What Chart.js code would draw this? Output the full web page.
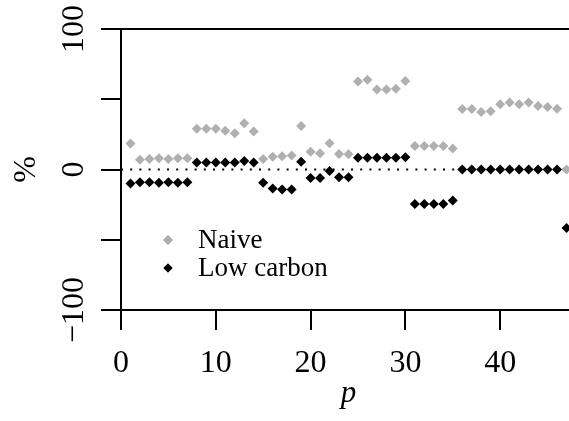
<!DOCTYPE html>
<html>
<head>
<meta charset="utf-8">
<script src="https://cdn.jsdelivr.net/npm/chart.js@4/dist/chart.umd.min.js"></script>
<style>
  html, body { margin: 0; padding: 0; background: #fff; overflow: hidden; }
  canvas { display: block; }
</style>
</head>
<body>
<canvas id="chartP" width="600" height="421"></canvas>
<script>
// data
var pValues = [1, 2, 3, 4, 5, 6, 7, 8, 9, 10, 11, 12, 13, 14, 15, 16, 17, 18, 19, 20, 21, 22, 23, 24,
    25, 26, 27, 28, 29, 30, 31, 32, 33, 34, 35, 36, 37, 38, 39, 40, 41, 42, 43, 44, 45, 46, 47];
var naiveValues = [18.5, 7, 7.5, 8, 7.5, 8, 8, 29, 29, 29, 27.6, 25.8, 33, 27, 7.5, 9, 9.5, 10, 31,
    12.7, 11.5, 18.6, 11, 10.8, 62.6, 63.8, 57, 57, 57.5, 63, 16.7, 16.7, 16.7, 16.7, 15,
    43, 43, 41, 41.5, 46.4, 47.6, 46.4, 47.6, 45.2, 44.5, 43.3, 0];
var lowCarbonValues = [-10, -9, -9, -9.5, -9, -9.5, -9, 5, 5, 5, 5, 5, 6, 5, -9.5, -13.5, -14.3, -14.3, 5.5,
    -6, -6, -1, -5.5, -5.5, 8.3, 8.3, 8.3, 8.3, 8.3, 8.8, -24.5, -24.5, -24.5, -24.5, -22,
    0, 0, 0, 0, 0, 0, 0, 0, 0, 0, 0, -41.7];
var seriesNames = ["Naive", "Low carbon"];
var yTickValues = [-100, 0, 100];
var yTickLabels = ["\u2212100", "0", "100"];

var serif = "'Liberation Serif', 'Times New Roman', serif";

function toPoints(ys) {
    return pValues.map(function (p, i) { return { x: p, y: ys[i] }; });
}

// rotated y labels, box top line and the legend
var extras = {
    id: 'extras',
    afterDraw: function (chart) {
        var ctx = chart.ctx;
        var area = chart.chartArea;
        var yScale = chart.scales.y;

        ctx.save();
        ctx.strokeStyle = 'black';
        ctx.lineWidth = 2;
        ctx.beginPath();
        ctx.moveTo(area.left, area.top);
        ctx.lineTo(area.right, area.top);
        ctx.stroke();

        ctx.fillStyle = 'black';
        ctx.font = '32px ' + serif;
        ctx.textAlign = 'center';
        ctx.textBaseline = 'alphabetic';
        yTickValues.forEach(function (v, i) {
            ctx.save();
            ctx.translate(yScale.right - 38, yScale.getPixelForValue(v));
            ctx.rotate(-Math.PI / 2);
            ctx.fillText(yTickLabels[i], 0, 0);
            ctx.restore();
        });

        ctx.font = '27px ' + serif;
        ctx.textAlign = 'left';
        [0, 1].forEach(function (i) {
            var ds = chart.data.datasets[i];
            var base = area.top + 219 + i * 28;
            Chart.helpers.drawPoint(ctx, {
                pointStyle: 'rectRot', radius: 4.5, borderWidth: 0
            }, area.left + 47, base - 8);
            ctx.fillStyle = ds.backgroundColor;
            ctx.fill();
            ctx.fillStyle = 'black';
            ctx.fillText(ds.label, area.left + 77, base);
        });
        ctx.restore();
    }
};

var ourChart = new Chart(document.getElementById('chartP'), {
    type: 'scatter',
    data: {
        datasets: [
            {
                label: seriesNames[0],
                data: toPoints(naiveValues),
                pointStyle: 'rectRot',
                pointRadius: 5,
                pointBorderWidth: 0,
                backgroundColor: '#b0b0b0',
                borderColor: '#b0b0b0',
                order: 2
            },
            {
                label: seriesNames[1],
                data: toPoints(lowCarbonValues),
                pointStyle: 'rectRot',
                pointRadius: 5,
                pointBorderWidth: 0,
                backgroundColor: '#000000',
                borderColor: '#000000',
                order: 1
            },
            {
                type: 'line',
                label: 'zero',
                data: [{ x: 0, y: 0 }, { x: 48, y: 0 }],
                borderColor: '#000000',
                borderWidth: 2,
                borderDash: [2, 7.2],
                pointRadius: 0,
                fill: false,
                order: 3
            }
        ]
    },
    options: {
        responsive: false,
        animation: false,
        devicePixelRatio: 1,
        layout: {
            padding: { left: 0, top: 29, right: 24, bottom: 0 }
        },
        plugins: {
            legend: { display: false },
            tooltip: { enabled: false }
        },
        scales: {
            x: {
                type: 'linear',
                min: 0,
                max: 48,
                border: { display: true, color: 'black', width: 2 },
                grid: { drawOnChartArea: false, color: 'black', lineWidth: 2, tickLength: 20 },
                ticks: {
                    stepSize: 10,
                    includeBounds: false,
                    color: 'black',
                    padding: 14,
                    maxRotation: 0,
                    font: { family: serif, size: 32 }
                },
                title: {
                    display: true,
                    text: 'p',
                    color: 'black',
                    padding: { top: 0, bottom: 9 },
                    font: { family: serif, size: 31, style: 'italic' }
                },
                afterFit: function (scale) { scale.height = 111; }
            },
            y: {
                type: 'linear',
                min: -100,
                max: 100,
                border: { display: true, color: 'black', width: 2 },
                grid: { drawOnChartArea: false, color: 'black', lineWidth: 2, tickLength: 20 },
                ticks: { stepSize: 50, display: false },
                title: {
                    display: true,
                    text: '%',
                    color: 'black',
                    padding: { top: 7, bottom: 0 },
                    font: { family: serif, size: 32 }
                },
                afterFit: function (scale) { scale.width = 121; }
            }
        }
    },
    plugins: [extras]
});
</script>
</body>
</html>
